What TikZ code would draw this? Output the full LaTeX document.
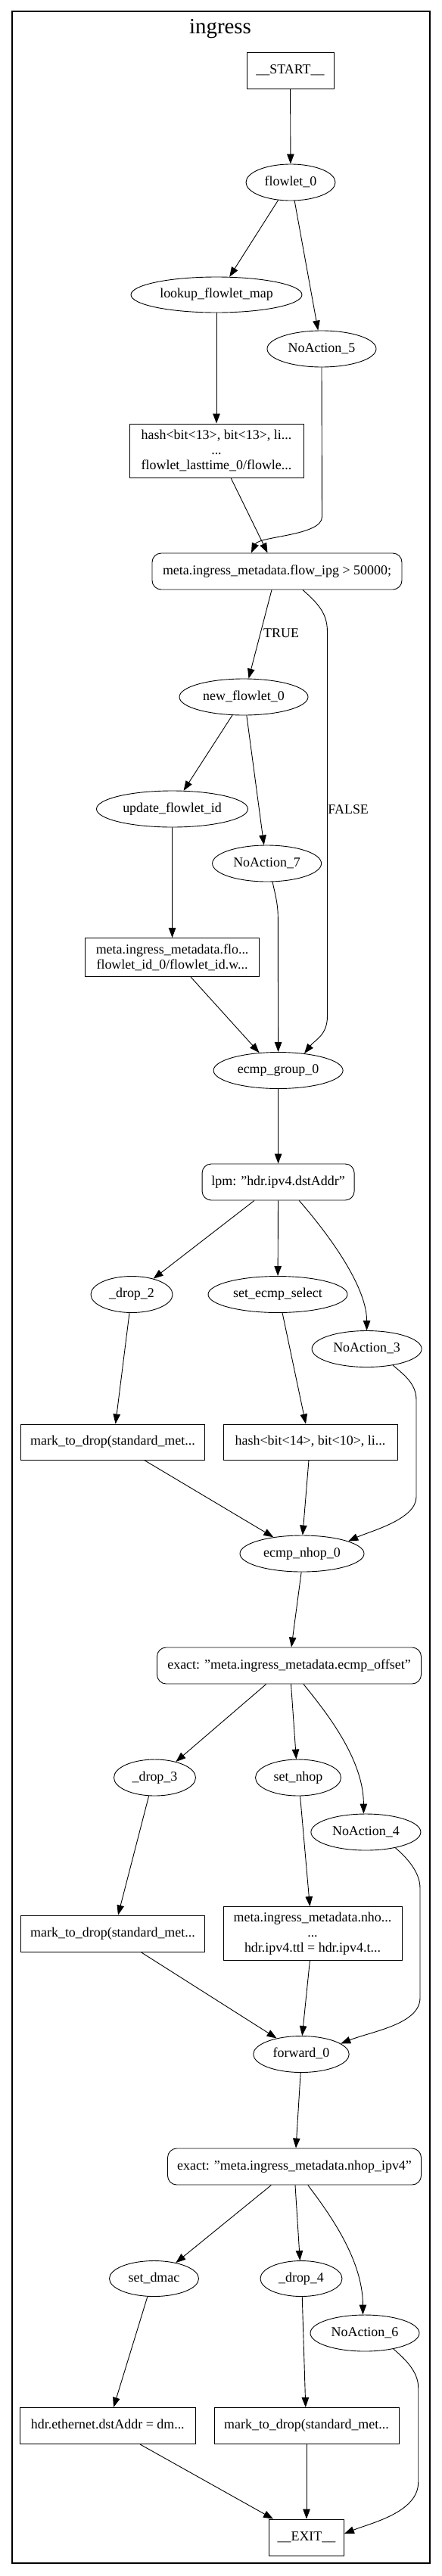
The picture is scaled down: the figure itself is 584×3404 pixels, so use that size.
\documentclass[tikz,border=0pt]{standalone}
\usepackage{fontspec}
\setmainfont{Liberation Serif}
\usetikzlibrary{shapes.geometric,arrows.meta,calc}
\begin{document}
\begin{tikzpicture}[x=1bp,y=-1bp,
  nbase/.style={draw, line width=0.9bp, inner sep=0pt, font=\fontsize{18}{20}\selectfont},
  nell/.style={nbase, ellipse, text height=12.6bp, text depth=4.3bp},
  nbox/.style={nbase, rectangle, text height=12.6bp, text depth=4.3bp},
  nrbox/.style={nbase, rectangle, rounded corners=12bp, text height=12.6bp, text depth=4.3bp},
  nmbox/.style={nbase, rectangle, align=center},
  lbl/.style={inner sep=0pt, font=\fontsize{18}{20}\selectfont, text height=12.6bp, text depth=4.3bp},
  conn/.style={draw, line width=0.9bp, -{Triangle[length=13bp,width=9.5bp]}},
]
\useasboundingbox (0,0) rectangle (584,3404);
\fill[white] (0,0) rectangle (584,3404);
\draw[line width=2bp] (15.6,15) rectangle (568.3,3387.3);
\node[font=\fontsize{29}{32}\selectfont, anchor=base, inner sep=0pt] (title) at (291,45) {ingress};

% nodes
\node[nbox, minimum width=115bp, minimum height=48bp] (start) at (383.5,93) {\_\_START\_\_};
\node[nell, minimum width=118bp, minimum height=48bp] (flowlet) at (384,241) {flowlet\_0};
\node[nell, minimum width=226bp, minimum height=47bp] (lookup) at (286,389.5) {lookup\_flowlet\_map};
\node[nell, minimum width=144bp, minimum height=48bp] (na5) at (425,461) {NoAction\_5};
\node[nmbox, minimum width=230bp, minimum height=71bp] (hashA) at (286,595.5) {hash<bit<13>, bit<13>, li...\\...\\flowlet\_lasttime\_0/flowle...};
\node[nrbox, minimum width=330bp, minimum height=48bp] (cond) at (366,755) {meta.ingress\_metadata.flow\_ipg > 50000;};
\node[nell, minimum width=170bp, minimum height=48bp] (newfl) at (322,921) {new\_flowlet\_0};
\node[nell, minimum width=200bp, minimum height=48bp] (upd) at (227.5,1069) {update\_flowlet\_id};
\node[nell, minimum width=144bp, minimum height=48bp] (na7) at (352.6,1141) {NoAction\_7};
\node[nmbox, minimum width=230bp, minimum height=51bp] (metaflo) at (227.6,1265) {meta.ingress\_metadata.flo...\\flowlet\_id\_0/flowlet\_id.w...};
\node[nell, minimum width=171bp, minimum height=48bp] (ecmpg) at (367.6,1414.5) {ecmp\_group\_0};
\node[nrbox, minimum width=201bp, minimum height=48bp] (lpm) at (367.6,1562) {lpm: "hdr.ipv4.dstAddr"};
\node[nell, minimum width=108bp, minimum height=48bp] (dropA) at (174,1710.5) {\_drop\_2};
\node[nell, minimum width=184bp, minimum height=48bp] (setecmp) at (367,1710.5) {set\_ecmp\_select};
\node[nell, minimum width=145bp, minimum height=48bp] (na3) at (484.6,1782.5) {NoAction\_3};
\node[nbox, minimum width=243bp, minimum height=47bp] (markA) at (149,1905.5) {mark\_to\_drop(standard\_met...};
\node[nbox, minimum width=230bp, minimum height=47bp] (hashB) at (410,1905.5) {hash<bit<14>, bit<10>, li...};
\node[nell, minimum width=164bp, minimum height=48bp] (nhop) at (399,2053) {ecmp\_nhop\_0};
\node[nrbox, minimum width=349bp, minimum height=48bp] (exactA) at (382,2201) {exact: "meta.ingress\_metadata.ecmp\_offset"};
\node[nell, minimum width=108bp, minimum height=48bp] (dropB) at (204.5,2349) {\_drop\_3};
\node[nell, minimum width=113bp, minimum height=48bp] (setnhop) at (394,2349) {set\_nhop};
\node[nell, minimum width=145bp, minimum height=48bp] (na4) at (483.4,2421) {NoAction\_4};
\node[nbox, minimum width=243bp, minimum height=48bp] (markB) at (149,2555) {mark\_to\_drop(standard\_met...};
\node[nmbox, minimum width=236bp, minimum height=71bp] (nhopbox) at (413,2555) {meta.ingress\_metadata.nho...\\...\\hdr.ipv4.ttl = hdr.ipv4.t...};
\node[nell, minimum width=126.5bp, minimum height=48bp] (fwd) at (398,2714.5) {forward\_0};
\node[nrbox, minimum width=335bp, minimum height=48bp] (exactB) at (389,2863) {exact: "meta.ingress\_metadata.nhop\_ipv4"};
\node[nell, minimum width=118bp, minimum height=47bp] (setdmac) at (203.5,3011) {set\_dmac};
\node[nell, minimum width=108bp, minimum height=47bp] (dropC) at (398,3011) {\_drop\_4};
\node[nell, minimum width=144bp, minimum height=48bp] (na6) at (482,3083) {NoAction\_6};
\node[nbox, minimum width=232bp, minimum height=48bp] (hdrbox) at (142.3,3205.5) {hdr.ethernet.dstAddr = dm...};
\node[nbox, minimum width=244bp, minimum height=48bp] (markC) at (405,3205.5) {mark\_to\_drop(standard\_met...};
\node[nbox, minimum width=99bp, minimum height=48bp] (exit) at (405,3353) {\_\_EXIT\_\_};

% waypoints
\coordinate (w6) at (425.5,683);
\coordinate (w8a) at (432.5,835);
\coordinate (w8b) at (432.5,1343);
\coordinate (w12) at (367.3,1212);
\coordinate (w20a) at (550,1850);
\coordinate (w20b) at (550,1978);
\coordinate (w29a) at (555,2495);
\coordinate (w29b) at (555,2640);
\coordinate (w40a) at (552.7,3155);
\coordinate (w40b) at (552.7,3280);

% connectors
\draw[conn] (start) -- (flowlet);
\draw[conn] (flowlet.-125) -- (lookup.54);
\draw[conn] (flowlet.-78) -- (na5.101);
\draw[conn] (lookup) -- (hashA);
\draw[conn] ([xshift=19bp]hashA.south) -- ([xshift=-12.5bp]cond.north);
\draw[conn] (na5.south) -- (w6) .. controls +(0,25) and +(10,-22) .. ([xshift=-34bp]cond.north);
\draw[conn] ([xshift=-7bp]cond.south) -- node[lbl, pos=0.5, anchor=west, xshift=4bp] (ltrue) {TRUE} (newfl.75);
\draw[conn] ([xshift=34bp]cond.south) .. controls +(20,18) and +(0,-25) .. (w8a) -- node[lbl, pos=0.465, anchor=west, xshift=0.5bp] (lfalse) {FALSE} (w8b) .. controls +(0,25) and +(14,-18) .. (ecmpg.33);
\draw[conn] (newfl.-122) -- (upd.58);
\draw[conn] (newfl.-81) -- (na7.99);
\draw[conn] (upd) -- (metaflo);
\draw[conn] (na7.-73) .. controls +(3,14) and +(0,-18) .. (w12) -- (ecmpg.north);
\draw[conn] ([xshift=24.4bp]metaflo.south) -- (ecmpg.137);
\draw[conn] (ecmpg) -- (lpm);
\draw[conn] ([xshift=-31.6bp]lpm.south) -- (dropA.36);
\draw[conn] (lpm) -- (setecmp);
\draw[conn] ([xshift=27.6bp]lpm.south) .. controls +(35,40) and +(0,-60) .. (na3.north);
\draw[conn] (dropA.-97) -- ([xshift=3.6bp]markA.north);
\draw[conn] (setecmp.-76) -- ([xshift=-6bp]hashB.north);
\draw[conn] (na3.-32) .. controls +(14,12) and +(0,-22) .. (w20a) -- (w20b) .. controls +(0,30) and +(28,-13) .. (nhop.15);
\draw[conn] ([xshift=41.5bp]markA.south) -- (nhop.150);
\draw[conn] ([xshift=-2bp]hashB.south) -- (nhop.88);
\draw[conn] (nhop.-92) -- ([xshift=3bp]exactA.north);
\draw[conn] ([xshift=-30.3bp]exactA.south) -- (dropB.37);
\draw[conn] ([xshift=2.5bp]exactA.south) -- (setnhop.96);
\draw[conn] ([xshift=19bp]exactA.south) .. controls +(24,30) and +(0,-75) .. (na4.97);
\draw[conn] (dropB.-108) -- ([xshift=7bp]markB.north);
\draw[conn] (setnhop.-84) -- ([xshift=-3.6bp]nhopbox.north);
\draw[conn] (na4.-28) .. controls +(14,12) and +(0,-22) .. (w29a) -- (w29b) .. controls +(0,35) and +(40,-16) .. (fwd.15);
\draw[conn] ([xshift=37bp]markB.south) -- (fwd.147);
\draw[conn] ([xshift=-3.6bp]nhopbox.south) -- (fwd.87);
\draw[conn] (fwd.-92) -- ([xshift=2bp]exactB.north);
\draw[conn] ([xshift=-30.6bp]exactB.south) -- (setdmac.36);
\draw[conn] ([xshift=1bp]exactB.south) -- (dropC.94);
\draw[conn] ([xshift=17.8bp]exactB.south) .. controls +(24,32) and +(0,-75) .. (na6.96);
\draw[conn] (setdmac.-110) -- ([xshift=7.7bp]hdrbox.north);
\draw[conn] (dropC.-87) -- ([xshift=-1.2bp]markC.north);
\draw[conn] ([xshift=42.7bp]hdrbox.south) -- ([xshift=-44bp]exit.north);
\draw[conn] (markC) -- (exit);
\draw[conn] (na6.-29) .. controls +(14,12) and +(0,-22) .. (w40a) -- (w40b) .. controls +(0,40) and +(35,-14) .. ([yshift=5bp]exit.east);
\end{tikzpicture}
\end{document}
